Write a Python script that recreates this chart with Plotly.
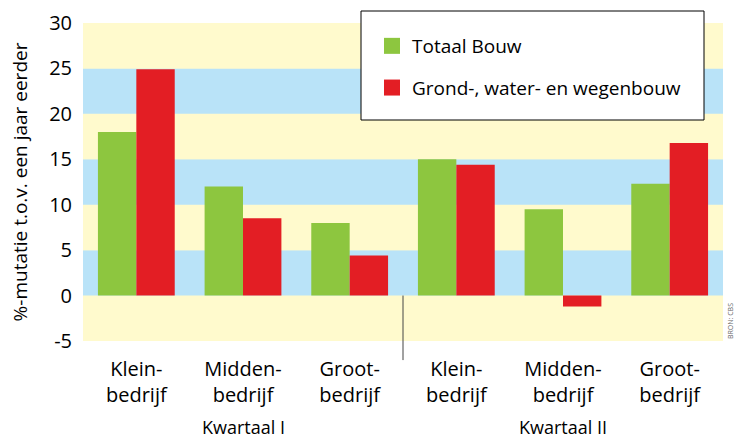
import plotly.graph_objects as go

categories = ["Klein-<br>bedrijf", "Midden-<br>bedrijf", "Groot-<br>bedrijf",
              "Klein-<br>bedrijf", "Midden-<br>bedrijf", "Groot-<br>bedrijf"]
totaal_bouw = [18.0, 12.0, 8.0, 15.0, 9.5, 12.3]
gww = [24.9, 8.5, 4.4, 14.4, -1.2, 16.8]
series_names = ["Totaal Bouw", "Grond-, water- en wegenbouw"]
quarters = ["Kwartaal I", "Kwartaal II"]
y_ticks = [-5, 0, 5, 10, 15, 20, 25, 30]
y_ticktext = ["-5", "0", "5", "10", "15", "20", "25", "30"]

FONT = "Open Sans"
YELLOW = "#FFFACD"
BLUE = "#B9E3F8"
GREEN = "#8DC63F"
RED = "#E31E24"

x = list(range(len(categories)))

fig = go.Figure()
fig.add_trace(go.Bar(x=x, y=totaal_bouw, name=series_names[0], marker_color=GREEN,
                     marker_line_width=0, showlegend=False))
fig.add_trace(go.Bar(x=x, y=gww, name=series_names[1], marker_color=RED,
                     marker_line_width=0, showlegend=False))
# legend entries with larger square swatches
for nm, col, grp in [(series_names[0], GREEN, "a"), (series_names[1], RED, "b")]:
    fig.add_trace(go.Scatter(x=[None], y=[None], mode="markers", name=nm, legendgroup=grp,
                             marker=dict(symbol="square", size=18, color=col, line_width=0)))

shapes = []
for i in range(len(y_ticks) - 1):
    shapes.append(dict(type="rect", xref="paper", yref="y", x0=0, x1=1,
                       y0=y_ticks[i], y1=y_ticks[i + 1], line_width=0,
                       fillcolor=BLUE if i % 2 == 1 else YELLOW, layer="below"))
# separator between quarters
shapes.append(dict(type="line", xref="x", yref="paper", x0=2.5, x1=2.5,
                   y0=5 / 35, y1=-0.06, line=dict(color="#444444", width=1)))
# legend box
shapes.append(dict(type="rect", xref="paper", yref="paper",
                   x0=(361 - 83) / 640, x1=(704 - 83) / 640,
                   y0=(341 - 120) / 318, y1=(341 - 11) / 318,
                   fillcolor="white", line=dict(color="black", width=1), layer="above"))

annotations = []
for qi, q in enumerate(quarters):
    annotations.append(dict(text=q, x=1 + 3 * qi, xref="x", y=-(440 - 341) / 318, yref="paper",
                            showarrow=False, font=dict(family=FONT, size=18, color="black"),
                            yanchor="bottom", borderpad=0))
annotations.append(dict(text="BRON: CBS", x=1.0, xref="paper", xshift=7, y=0.0, yref="paper",
                        textangle=-90, showarrow=False, xanchor="center", yanchor="bottom",
                        font=dict(family=FONT, size=7, color="#666666")))

fig.update_layout(
    width=736, height=440,
    margin=dict(l=83, r=13, t=23, b=99, autoexpand=False),
    paper_bgcolor="white", plot_bgcolor=YELLOW,
    barmode="group", bargap=0.28, bargroupgap=0,
    font=dict(family=FONT, size=20, color="black"),
    shapes=shapes, annotations=annotations,
    showlegend=True,
    legend=dict(x=(372 - 83) / 640, y=(341 - 27) / 318, xanchor="left", yanchor="top",
                bgcolor="rgba(0,0,0,0)", borderwidth=0, tracegroupgap=14,
                itemsizing="trace", itemwidth=30,
                font=dict(family=FONT, size=19, color="black")),
)
fig.update_xaxes(tickmode="array", tickvals=x, ticktext=categories, automargin=False,
                 range=[-0.5, len(categories) - 0.5], showgrid=False, zeroline=False,
                 showline=False, ticks="", tickfont=dict(size=20), ticklabelstandoff=14)
fig.update_yaxes(range=[-5, 30], tickvals=y_ticks, ticktext=y_ticktext, automargin=False,
                 showgrid=False, zeroline=False, ticklabelstandoff=10,
                 showline=False, ticks="", tickfont=dict(size=20),
                 title=dict(text="%-mutatie t.o.v. een jaar eerder", font=dict(size=19), standoff=16))

fig.write_html("out.html", config={"displayModeBar": False},
               post_script="document.body.style.margin='0';document.body.style.overflow='hidden';")
